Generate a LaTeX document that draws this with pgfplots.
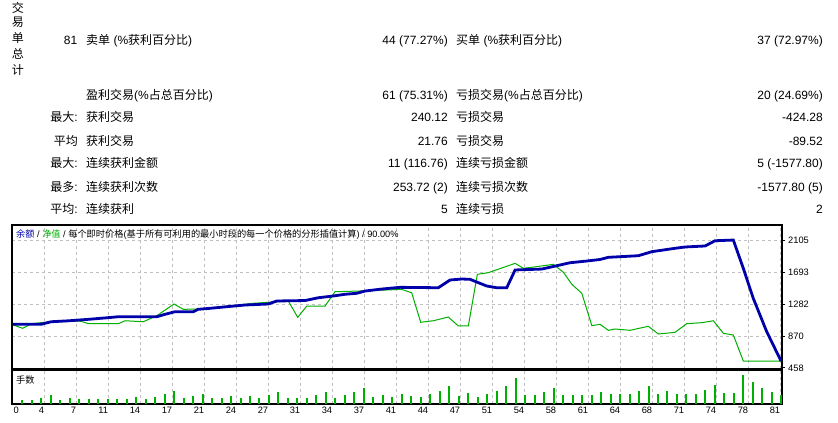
\documentclass[border=0pt]{standalone}
\usepackage{pgfplots}
\pgfplotsset{compat=1.18}
\usepackage{fontspec}
\setmainfont{Liberation Sans}
\newfontfamily\cjk{Noto Sans CJK SC}
\definecolor{bal}{RGB}{0,0,170}
\definecolor{eq}{RGB}{0,176,0}
\definecolor{gridgray}{RGB}{192,192,192}
\pgfplotsset{
  gridx/.style={xtick={3.320,6.693,10.066,13.439,16.812,20.185,23.557,26.930,30.303,33.676,37.049,40.422,43.794,47.167,50.540,53.913,57.286,60.659,64.032,67.404,70.777,74.150,77.523,80.896}},
  mtgrid/.style={grid style={gridgray, dash pattern=on 3pt off 3pt, line width=0.8pt}},
}
\begin{document}
\begin{tikzpicture}[x=1pt,y=1pt]
\path[use as bounding box, fill=white] (0,0) rectangle (838,-423);
\tikzset{tb/.style={inner sep=0pt, font=\fontsize{12}{14}\selectfont, text=black}}
% vertical label
\node[tb, anchor=center] at (18,-7.5) {\cjk 交};
\node[tb, anchor=center] at (18,-22.5) {\cjk 易};
\node[tb, anchor=center] at (18,-38) {\cjk 单};
\node[tb, anchor=center] at (18,-53.5) {\cjk 总};
\node[tb, anchor=center] at (18,-69.5) {\cjk 计};
% row 1
\node[tb, anchor=base east] at (77.5,-44.5) {81};
\node[tb, anchor=base west] at (86,-44.5) {{\cjk 卖单} (\%{\cjk 获利百分比})};
\node[tb, anchor=base east] at (448,-44.5) {44 (77.27\%)};
\node[tb, anchor=base west] at (456,-44.5) {{\cjk 买单} (\%{\cjk 获利百分比})};
\node[tb, anchor=base east] at (823,-44.5) {37 (72.97\%)};
% row 2
\node[tb, anchor=base west] at (86,-99.5) {{\cjk 盈利交易}(\%{\cjk 占总百分比})};
\node[tb, anchor=base east] at (448,-99.5) {61 (75.31\%)};
\node[tb, anchor=base west] at (456,-99.5) {{\cjk 亏损交易}(\%{\cjk 占总百分比})};
\node[tb, anchor=base east] at (823,-99.5) {20 (24.69\%)};
% row 3
\node[tb, anchor=base east] at (78,-121.8) {{\cjk 最大}:};
\node[tb, anchor=base west] at (86,-121.8) {\cjk 获利交易};
\node[tb, anchor=base east] at (448,-121.8) {240.12};
\node[tb, anchor=base west] at (456,-121.8) {\cjk 亏损交易};
\node[tb, anchor=base east] at (823,-121.8) {-424.28};
% row 4
\node[tb, anchor=base east] at (78,-145.2) {\cjk 平均};
\node[tb, anchor=base west] at (86,-145.2) {\cjk 获利交易};
\node[tb, anchor=base east] at (448,-145.2) {21.76};
\node[tb, anchor=base west] at (456,-145.2) {\cjk 亏损交易};
\node[tb, anchor=base east] at (823,-145.2) {-89.52};
% row 5
\node[tb, anchor=base east] at (78,-167.8) {{\cjk 最大}:};
\node[tb, anchor=base west] at (86,-167.8) {\cjk 连续获利金额};
\node[tb, anchor=base east] at (448,-167.8) {11 (116.76)};
\node[tb, anchor=base west] at (456,-167.8) {\cjk 连续亏损金额};
\node[tb, anchor=base east] at (823,-167.8) {5 (-1577.80)};
% row 6
\node[tb, anchor=base east] at (78,-191.2) {{\cjk 最多}:};
\node[tb, anchor=base west] at (86,-191.2) {\cjk 连续获利次数};
\node[tb, anchor=base east] at (448,-191.2) {253.72 (2)};
\node[tb, anchor=base west] at (456,-191.2) {\cjk 连续亏损次数};
\node[tb, anchor=base east] at (823,-191.2) {-1577.80 (5)};
% row 7
\node[tb, anchor=base east] at (78,-213.5) {{\cjk 平均}:};
\node[tb, anchor=base west] at (86,-213.5) {\cjk 连续获利};
\node[tb, anchor=base east] at (448,-213.5) {5};
\node[tb, anchor=base west] at (456,-213.5) {\cjk 连续亏损};
\node[tb, anchor=base east] at (823,-213.5) {2};

% main chart
\begin{axis}[
 at={(12pt,-368.5pt)}, anchor=south west, scale only axis,
 width=770pt, height=143.5pt,
 xmin=-0.0843, xmax=81.07, ymin=449, ymax=2309,
 axis line style={line width=1.2pt, black},
 gridx, xticklabels={}, xtick style={draw=none},
 ytick={870,1282,1693,2105}, yticklabels={870,1282,1693,2105},
 extra y ticks={458}, extra y tick labels={458}, extra y tick style={grid=none},
 ytick pos=right, yticklabel pos=right, tick align=outside, major tick length=3pt,
 ytick style={black, line width=0.8pt},
 yticklabel style={font=\fontsize{9.3}{9.3}\selectfont, inner sep=0pt, xshift=3pt},
 grid=major, mtgrid,
]
\addplot[eq, line width=1pt, mark=none] coordinates {
(0.05,1013) (1.04,970) (1.99,1030) (3.39,1048) (7.08,1065) (7.96,1030) (11.12,1030) (11.83,1068) (13.75,1055) (15.17,1133) (16.99,1285) (17.97,1216) (19.55,1220) (20.79,1229) (25.35,1294) (29.04,1324) (30.03,1112) (30.98,1259) (32.91,1259) (33.96,1444) (36.42,1453) (39.23,1466) (40.99,1475) (42.04,1431) (42.99,1048) (44.32,1068) (45.90,1116) (46.96,1000) (48.01,1000) (48.96,1670) (50.12,1691) (52.94,1812) (53.81,1748) (54.87,1764) (56.98,1799) (58.03,1696) (58.92,1540) (59.97,1424) (61.03,1004) (61.89,1022) (62.77,944) (63.47,961) (65.05,944) (66.98,996) (68.04,896) (69.80,918) (71.03,1030) (72.61,1043) (73.83,1068) (74.89,905) (75.94,883) (76.99,546) (80.97,546)
};
\addplot[bal, line width=2.8pt, mark=none] coordinates {
(0,1022) (3.05,1024) (4.03,1055) (5.96,1068) (8.03,1087) (9.96,1107) (11.12,1120) (15.17,1120) (16.04,1151) (17.09,1185) (19.03,1185) (19.52,1216) (20.79,1229) (22.55,1250) (24.47,1272) (26.93,1285) (27.82,1324) (30.80,1330) (32.20,1366) (33.78,1389) (35.02,1411) (36.25,1424) (37.12,1453) (38.88,1479) (40.81,1501) (44.85,1496) (46.08,1596) (47.32,1609) (48.19,1605) (49.95,1518) (51.01,1496) (52.06,1496) (52.94,1726) (55.75,1738) (57.33,1781) (58.73,1820) (60.49,1842) (61.89,1862) (62.77,1890) (65.93,1911) (67.34,1963) (69.80,2007) (70.85,2024) (72.96,2037) (74.01,2105) (75.94,2114) (76.99,1748) (78.04,1359) (79.46,926) (80.97,546)
};
\end{axis}

% volume panel
\begin{axis}[
 at={(12pt,-404pt)}, anchor=south west, scale only axis,
 width=770pt, height=34pt,
 xmin=-0.0843, xmax=81.07, ymin=0, ymax=1.02,
 axis line style={line width=1.2pt, black},
 gridx, xticklabels={4,7,11,14,17,21,24,27,31,34,37,41,44,47,51,54,58,61,64,68,71,74,78,81},
 extra x ticks={-0.0843}, extra x tick labels={0},
 extra x tick style={grid=none, xticklabel style={anchor=north west, xshift=1.3pt}},
 xtick style={draw=none}, ytick=\empty,
 xmajorgrids, mtgrid,
 xticklabel style={font=\fontsize{9.3}{9.3}\selectfont, anchor=north east, inner sep=0pt, yshift=-3pt},
]
\addplot[ycomb, eq, line width=2pt, mark=none] coordinates {
(1,0.13) (2,0.13) (3,0.19) (4,0.28) (5,0.13) (6,0.19) (7,0.16) (8,0.16) (9,0.16) (10,0.16)
(11,0.16) (12,0.16) (13,0.22) (14,0.16) (15,0.22) (16,0.31) (17,0.40) (18,0.19) (19,0.25) (20,0.31)
(21,0.19) (22,0.19) (23,0.25) (24,0.19) (25,0.25) (26,0.19) (27,0.28) (28,0.37) (29,0.19) (30,0.19)
(31,0.19) (32,0.28) (33,0.37) (34,0.19) (35,0.28) (36,0.37) (37,0.49) (38,0.22) (39,0.28) (40,0.22)
(41,0.31) (42,0.25) (43,0.22) (44,0.31) (45,0.40) (46,0.55) (47,0.25) (48,0.34) (49,0.22) (50,0.31)
(51,0.40) (52,0.55) (53,0.79) (54,0.28) (55,0.28) (56,0.37) (57,0.49) (58,0.28) (59,0.28) (60,0.28)
(61,0.28) (62,0.37) (63,0.31) (64,0.31) (65,0.31) (66,0.40) (67,0.55) (68,0.31) (69,0.40) (70,0.31)
(71,0.31) (72,0.31) (73,0.43) (74,0.58) (75,0.34) (76,0.34) (77,0.88) (78,0.67) (79,0.49) (80,0.37)
(81,0.28)
};
\end{axis}

\node[anchor=base west, inner sep=0pt, font=\fontsize{9.2}{9.2}\selectfont] at (16,-237.5)
 {{\cjk\color{bal}余额} / {\cjk\color{eq}净值} / {\cjk 每个即时价格}({\cjk 基于所有可利用的最小时段的每一个价格的分形插值计算}) / 90.00\%};
\node[anchor=base west, inner sep=0pt, font=\fontsize{9.2}{9.2}\selectfont] at (16,-383.5) {\cjk 手数};
\end{tikzpicture}
\end{document}
